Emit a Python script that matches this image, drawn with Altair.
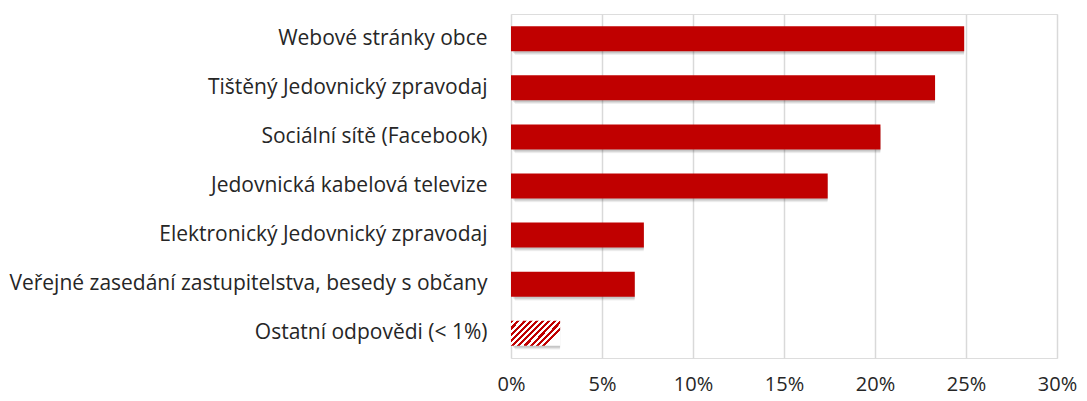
import altair as alt
import pandas as pd

categories = [
    "Webové stránky obce",
    "Tištěný Jedovnický zpravodaj",
    "Sociální sítě (Facebook)",
    "Jedovnická kabelová televize",
    "Elektronický Jedovnický zpravodaj",
    "Veřejné zasedání zastupitelstva, besedy s občany",
    "Ostatní odpovědi (< 1%)",
]
values = [0.249, 0.233, 0.203, 0.174, 0.073, 0.068, 0.027]
hatched = [False, False, False, False, False, False, True]
x_ticks = [0, 0.05, 0.10, 0.15, 0.20, 0.25, 0.30]

df = pd.DataFrame({"cat": categories, "val": values, "hatched": hatched})

RED = "#C00000"
FONT = "Open Sans"

y_enc = alt.Y("cat:N", sort=categories, title=None,
              scale=alt.Scale(paddingInner=0.49, paddingOuter=0.25),
              axis=alt.Axis(domain=False, ticks=False, labelPadding=24,
                            labelFontSize=21, labelFont=FONT, labelColor="#262626",
                            labelLimit=600, minExtent=500, maxExtent=500))
x_enc = alt.X("val:Q", title=None,
              scale=alt.Scale(domain=[0, 0.30], nice=False),
              axis=alt.Axis(values=x_ticks, format=".0%", domain=False, ticks=False,
                            grid=True, gridColor="#d9d9d9", gridWidth=1.5,
                            labelFontSize=20, labelFont=FONT, labelColor="#262626",
                            labelPadding=16, labelFlush=False))

base = alt.Chart(df)

shadows = [
    base.mark_bar(color="#000000", opacity=op, xOffset=off, yOffset=off, cornerRadius=1)
    .encode(x=x_enc, y=y_enc)
    for off, op in [(4, 0.06), (3, 0.08), (2, 0.10)]
]

solid = base.transform_filter("!datum.hatched").mark_bar(color=RED).encode(x=x_enc, y=y_enc)

stops = []
n = 10
for i in range(n):
    a = i / n
    b = (i + 0.5) / n
    c = (i + 1) / n
    stops += [
        alt.GradientStop(offset=a, color=RED),
        alt.GradientStop(offset=b - 0.0001, color=RED),
        alt.GradientStop(offset=b, color="#ffffff"),
        alt.GradientStop(offset=c - 0.0001, color="#ffffff"),
    ]
grad = alt.Gradient(gradient="linear", stops=stops, x1=0, y1=0, x2=1, y2=0.5)
hatch = base.transform_filter("datum.hatched").mark_bar(color=grad).encode(x=x_enc, y=y_enc)

chart = alt.layer(*shadows, solid, hatch).properties(
    width=546, height=344,
    padding={"left": 0, "top": 6, "right": 0, "bottom": 0},
).configure_view(stroke=None).configure(background="white")

chart.save("out.html", embed_options={"renderer": "svg", "actions": False})
